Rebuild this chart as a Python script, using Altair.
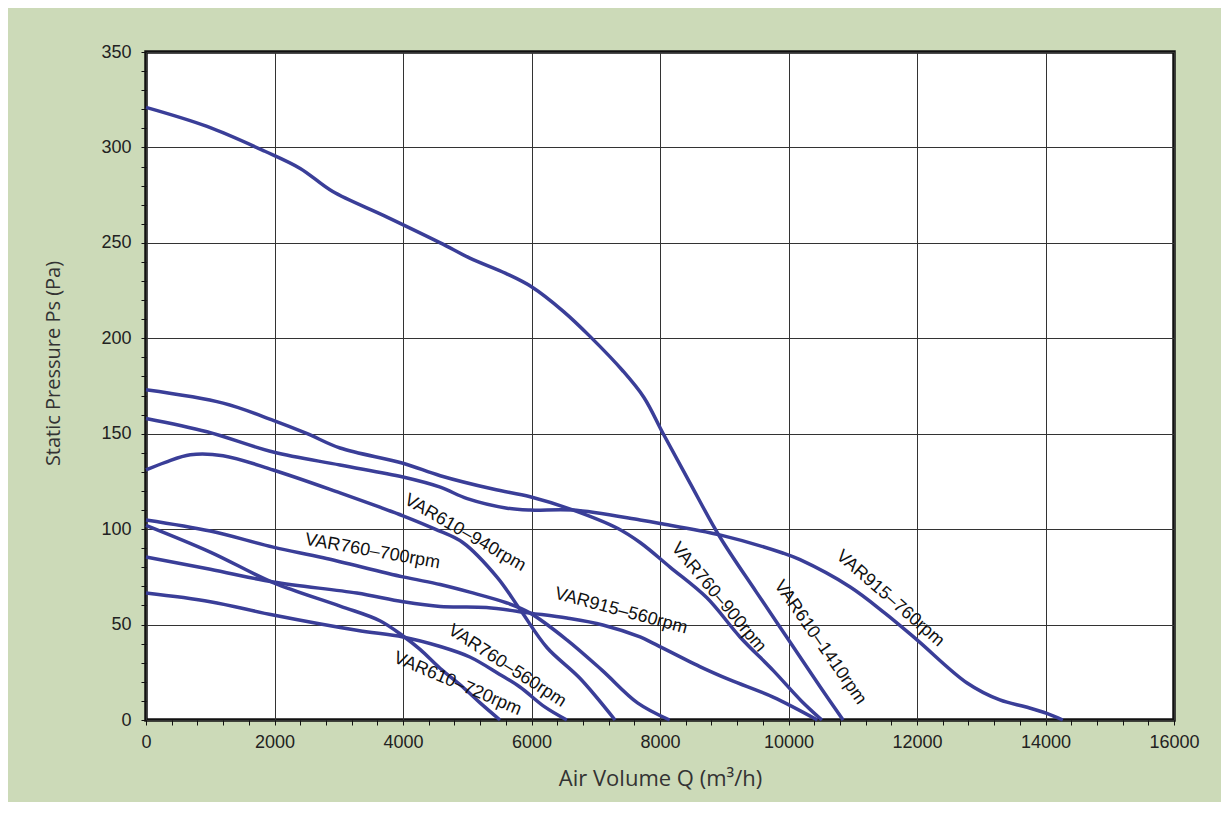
import altair as alt
import pandas as pd

# ---------------- data ----------------
SERIES = [
    "VAR610–1410rpm", "VAR760–900rpm", "VAR915–760rpm", "VAR610–940rpm",
    "VAR760–700rpm", "VAR915–560rpm", "VAR760–560rpm", "VAR610–720rpm",
]

Q_610_1410 = [0, 950, 1850, 2400, 2900, 3720, 4580, 5040, 5600, 6000, 6500, 6910, 7420, 7750, 8050, 8470, 8930, 9500, 10000, 10500, 10850]
P_610_1410 = [321, 311, 298, 289, 277, 264, 250, 242, 234, 227, 214, 201, 183, 169, 150, 124, 96, 67, 42, 17, 0]

Q_760_900 = [0, 1200, 1980, 2510, 3020, 4000, 4580, 5400, 5980, 6650, 7330, 7690, 8160, 8730, 9245, 9760, 10200, 10520]
P_760_900 = [173, 166, 157, 150, 142.5, 134.5, 128, 121, 117, 110, 100.6, 93, 80, 64, 43.5, 26, 10, 0]

Q_915_760 = [0, 950, 1980, 3020, 4000, 4580, 5000, 5620, 5980, 6650, 7690, 8000, 8930, 9910, 10180, 10960, 11500, 12000, 12780, 13290, 13700, 14020, 14270]
P_915_760 = [158, 151, 140.4, 133.6, 127.3, 122, 116, 111, 110, 110, 104.8, 103, 97, 87.5, 84, 69.7, 56, 42, 19.4, 10.5, 6.8, 3.5, 0]

Q_610_940 = [0, 300, 690, 1200, 1980, 3020, 3640, 4000, 4500, 4930, 5460, 5820, 6240, 6750, 7300]
P_610_940 = [131, 135, 139, 138.5, 131, 119, 111.5, 107, 100, 93, 75, 58, 38, 22, 0]

Q_760_700 = [0, 1000, 1980, 2760, 4000, 4580, 5040, 5620, 5980, 6550, 7100, 7650, 8150]
P_760_700 = [104.8, 99, 90.6, 85, 75, 71, 67, 61.3, 56, 42, 26, 9, 0]

Q_915_560 = [0, 1000, 1980, 3280, 4000, 4580, 5300, 5980, 6550, 7110, 7690, 7890, 8620, 9090, 9760, 10450]
P_915_560 = [85.4, 79, 72.3, 66.5, 62, 59.5, 59, 56, 53.4, 49.8, 43.5, 40.3, 28, 21, 12, 0]

Q_760_560 = [0, 1000, 1980, 3280, 4000, 4580, 5040, 5500, 5820, 6200, 6550]
P_760_560 = [66.5, 62, 55, 47, 43.5, 38.5, 33, 24, 17.3, 7, 0]

Q_610_720 = [0, 1000, 1980, 3020, 3640, 4000, 4265, 4580, 4930, 5200, 5510]
P_610_720 = [102, 88, 72, 59.7, 52, 44, 37, 27, 17.3, 9, 0]

Q_ALL = [Q_610_1410, Q_760_900, Q_915_760, Q_610_940, Q_760_700, Q_915_560, Q_760_560, Q_610_720]
P_ALL = [P_610_1410, P_760_900, P_915_760, P_610_940, P_760_700, P_915_560, P_760_560, P_610_720]

# curve labels (anchor in data units, rotation in degrees)
LABEL_TEXT = SERIES
LABEL_Q = [10490, 8911, 11580, 4965, 3525, 7393, 5619, 4848]
LABEL_P = [40.6, 64.2, 63.6, 98.0, 88.3, 57.1, 28.3, 18.9]
LABEL_ANGLE = [55, 50, 41, 30, 10, 15, 33, 23]

X_MAJOR = [0, 2000, 4000, 6000, 8000, 10000, 12000, 14000, 16000]
Y_MAJOR = [0, 50, 100, 150, 200, 250, 300, 350]
X_MINOR_STEP = 400
Y_MINOR_STEP = 10

# ---------------- tables ----------------
rows = []
for name, qs, ps in zip(SERIES, Q_ALL, P_ALL):
    for q, p in zip(qs, ps):
        rows.append({"series": name, "Q": q, "P": p})
curves = pd.DataFrame(rows)

labels = pd.DataFrame({"text": LABEL_TEXT, "Q": LABEL_Q, "P": LABEL_P, "angle": LABEL_ANGLE})

x_vals = list(range(X_MAJOR[0], X_MAJOR[-1] + 1, X_MINOR_STEP))
y_vals = list(range(Y_MAJOR[0], Y_MAJOR[-1] + 1, Y_MINOR_STEP))

LINE_COLOR = "#3a3e98"
BG = "#ccdab8"

x_axis = alt.Axis(
    values=x_vals,
    tickCount=len(x_vals) + 5,
    format="d",
    labelExpr="datum.value % 2000 === 0 ? datum.label : ''",
    labelOverlap=False,
    labelFlush=False,
    labelFont="Liberation Sans",
    labelFontSize=18,
    labelColor="#222",
    labelPadding=8,
    tickSize=5,
    tickColor="#111",
    tickWidth=1,
    domain=False,
    grid=True,
    gridColor="#333",
    gridWidth=1,
    gridOpacity={"condition": {"test": "datum.value % 2000 === 0", "value": 1}, "value": 0},
    title="Air Volume Q (m³/h)",
    titleFont="Open Sans",
    titleFontSize=22,
    titleFontWeight="normal",
    titleColor="#333",
    titleX=514,
    titleY=58,
    titleBaseline="middle",
)

y_axis = alt.Axis(
    values=y_vals,
    tickCount=len(y_vals) + 5,
    format="d",
    labelExpr="datum.value % 50 === 0 ? datum.label : ''",
    labelOverlap=False,
    labelFlush=False,
    labelFont="Liberation Sans",
    labelFontSize=18,
    labelColor="#222",
    labelPadding=10,
    tickSize=5,
    tickColor="#111",
    tickWidth=1,
    domain=False,
    grid=True,
    gridColor="#333",
    gridWidth=1,
    gridOpacity={"condition": {"test": "datum.value % 50 === 0", "value": 1}, "value": 0},
    title="Static Pressure Ps (Pa)",
    titleFont="Open Sans",
    titleFontSize=20,
    titleFontWeight="normal",
    titleColor="#333",
    titleX=-93,
    titleY=311,
    titleBaseline="middle",
    titleAngle=270,
)

x_enc = alt.X("Q:Q", scale=alt.Scale(domain=[0, 16000], nice=False), axis=x_axis)
y_enc = alt.Y("P:Q", scale=alt.Scale(domain=[0, 350], nice=False), axis=y_axis)

lines = alt.Chart(curves).mark_line(
    color=LINE_COLOR, strokeWidth=3.5, interpolate="catmull-rom"
).encode(x=x_enc, y=y_enc, detail="series:N", order="Q:Q")

texts = alt.Chart(labels).mark_text(
    font="Liberation Sans", fontSize=18, color="#111", align="center", baseline="middle"
).encode(
    x=alt.X("Q:Q"),
    y=alt.Y("P:Q"),
    text="text:N",
    angle=alt.Angle("angle:Q", scale=None),
)

chart = alt.layer(lines, texts).properties(
    width=1028,
    height=668,
    background=BG,
    padding={"left": 138, "top": 44, "right": 47, "bottom": 82},
    autosize=alt.AutoSizeParams(type="none"),
).configure_view(
    stroke="#111", strokeWidth=3.5, fill="white"
)

chart.save("out.html", embed_options={"renderer": "svg", "actions": False})
